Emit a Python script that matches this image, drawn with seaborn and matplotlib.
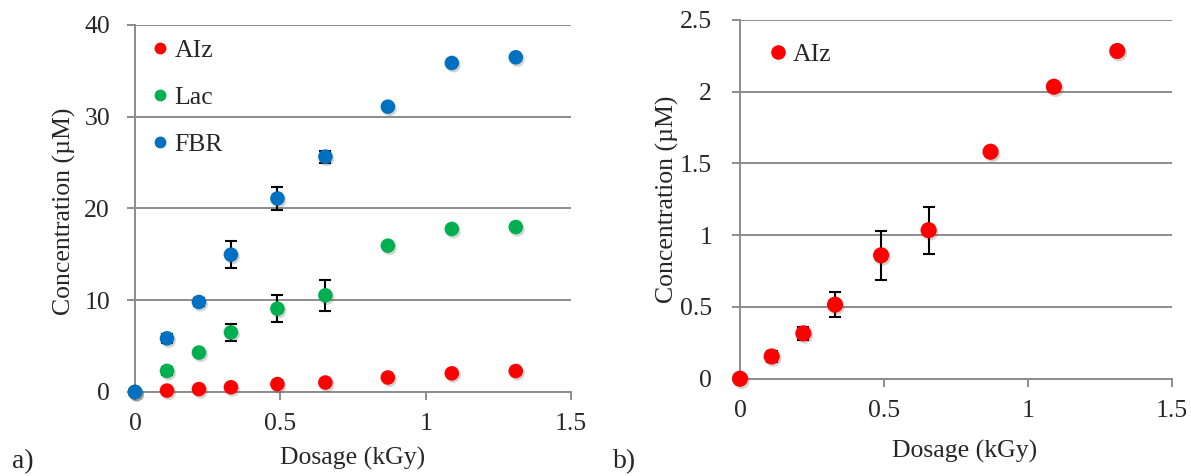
import matplotlib
matplotlib.use("Agg")
import matplotlib.pyplot as plt
import seaborn as sns
import pandas as pd
import matplotlib.patheffects as pe
from matplotlib.lines import Line2D
from matplotlib.ticker import FuncFormatter, FixedLocator

# ---- data ----
dose = [0, 0.11, 0.22, 0.33, 0.49, 0.655, 0.87, 1.09, 1.31]
aiz = [0, 0.155, 0.316, 0.516, 0.86, 1.035, 1.582, 2.035, 2.284]
aiz_err = [0, 0.04, 0.045, 0.088, 0.17, 0.164, 0, 0, 0]
lac = [0, 2.3, 4.3, 6.5, 9.08, 10.54, 15.95, 17.77, 17.98]
lac_err = [0, 0.4, 0, 0.9, 1.45, 1.7, 0, 0, 0]
fbr = [0, 5.85, 9.81, 14.97, 21.1, 25.65, 31.1, 35.86, 36.48]
fbr_err = [0, 0.5, 0.45, 1.5, 1.25, 0.65, 0, 0, 0]

series_names = ["AIz", "Lac", "FBR"]
colors = {"AIz": "#FF0000", "Lac": "#00B050", "FBR": "#0070C0"}
left_yticks = [0, 10, 20, 30, 40]
right_yticks = [0, 0.5, 1, 1.5, 2, 2.5]
xticks = [0, 0.5, 1, 1.5]

df = pd.concat([
    pd.DataFrame({"dose": dose, "conc": aiz, "err": aiz_err, "series": "AIz"}),
    pd.DataFrame({"dose": dose, "conc": lac, "err": lac_err, "series": "Lac"}),
    pd.DataFrame({"dose": dose, "conc": fbr, "err": fbr_err, "series": "FBR"}),
], ignore_index=True)

sns.set_style("white")
plt.rcParams["font.family"] = ["Liberation Serif", "DejaVu Serif"]

FS = 18.5
GRID = "#8c8c8c"

fig = plt.figure(figsize=(11.91, 4.76), dpi=100)
axL = fig.add_axes([135 / 1191, 84 / 476, 436 / 1191, 367 / 476])
axR = fig.add_axes([740 / 1191, 97.3 / 476, 432 / 1191, 358.7 / 476])

fmt = FuncFormatter(lambda v, p: ("%g" % v))
shadow = [pe.SimplePatchShadow(offset=(1.2, -1.6), alpha=0.25, shadow_rgbFace="#555555"), pe.Normal()]


def style_axis(ax, yticks, ylim, ypad):
    ax.set_xlim(0, 1.5)
    ax.set_ylim(*ylim)
    ax.yaxis.set_major_locator(FixedLocator(yticks))
    ax.xaxis.set_major_locator(FixedLocator(xticks))
    ax.xaxis.set_major_formatter(fmt)
    ax.yaxis.set_major_formatter(fmt)
    for s in ["top", "right"]:
        ax.spines[s].set_visible(False)
    for s in ["left", "bottom"]:
        ax.spines[s].set_color(GRID)
        ax.spines[s].set_linewidth(1.4)
        ax.spines[s].set_zorder(1)
    ax.grid(axis="y", color=GRID, linewidth=1.4, zorder=0)
    ax.grid(axis="x", visible=False)
    ax.set_axisbelow(True)
    ax.tick_params(axis="y", direction="out", length=6, width=1.4, color=GRID,
                   labelsize=FS, pad=ypad, left=True)
    ax.tick_params(axis="x", direction="out", length=6, width=1.4, color=GRID,
                   labelsize=FS, pad=9, bottom=True)


# ---- left panel ----
for name in series_names:
    d = df[df["series"] == name]
    axL.errorbar(d["dose"], d["conc"], yerr=d["err"], fmt="none", ecolor="black",
                 elinewidth=1.5, capsize=4.5, capthick=1.5, zorder=2, clip_on=False)
sns.scatterplot(data=df, x="dose", y="conc", hue="series", palette=colors,
                hue_order=series_names, s=110, linewidth=0, legend=False,
                ax=axL, zorder=3, clip_on=False)
for c in axL.collections:
    if c.__class__.__name__ == "PathCollection":
        c.set_path_effects(shadow)
style_axis(axL, left_yticks, (0, 40), 12)
axL.set_xlabel("Dosage (kGy)", fontsize=FS)
axL.set_ylabel("Concentration (\u00b5M)", fontsize=FS)
axL.xaxis.set_label_coords(0.5, -0.150)
axL.yaxis.set_label_coords(-0.135, 0.493)
handles = [Line2D([], [], linestyle="none", marker="o", markersize=8.5,
                  markerfacecolor=colors[n], markeredgewidth=0) for n in series_names]
axL.legend(handles, series_names, loc="upper left", bbox_to_anchor=(0.005, 1.005),
           frameon=False, fontsize=FS, labelspacing=0.95, handlelength=0.6,
           handletextpad=0.25, borderaxespad=0.2, borderpad=0.4)

# ---- right panel ----
d = df[df["series"] == "AIz"]
axR.errorbar(d["dose"], d["conc"], yerr=d["err"], fmt="none", ecolor="black",
             elinewidth=1.5, capsize=4.5, capthick=1.5, zorder=2, clip_on=False)
sns.scatterplot(data=d, x="dose", y="conc", color=colors["AIz"], s=135, linewidth=0,
                legend=False, ax=axR, zorder=3, clip_on=False)
for c in axR.collections:
    if c.__class__.__name__ == "PathCollection":
        c.set_path_effects(shadow)
style_axis(axR, right_yticks, (0, 2.5), 14)
axR.set_xlabel("Dosage (kGy)", fontsize=FS)
axR.set_ylabel("Concentration (\u00b5M)", fontsize=FS)
axR.xaxis.set_label_coords(0.52, -0.172)
axR.yaxis.set_label_coords(-0.142, 0.5)
hR = [Line2D([], [], linestyle="none", marker="o", markersize=10.5,
             markerfacecolor=colors["AIz"], markeredgewidth=0)]
axR.legend(hR, ["AIz"], loc="upper left", bbox_to_anchor=(0.035, 0.98),
           frameon=False, fontsize=FS, handlelength=0.6, handletextpad=0.25,
           borderaxespad=0.2, borderpad=0.4)

fig.text(12 / 1191, 1 - 462 / 476, "a)", fontsize=20, va="center", ha="left")
fig.text(613 / 1191, 1 - 462 / 476, "b)", fontsize=20, va="center", ha="left")

fig.savefig("out.png", dpi=100)
